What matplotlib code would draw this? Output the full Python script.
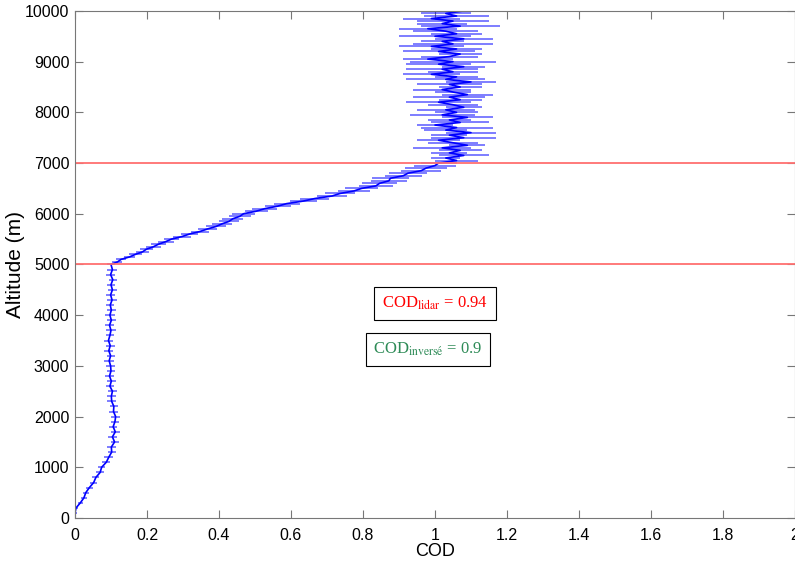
import numpy as np
import matplotlib
matplotlib.use("Agg")
from matplotlib import pyplot as plt

# altitude grids (m)
alt_low = np.arange(0, 5000, 100)
alt_mid = np.arange(5000, 7000, 50)
alt_high = np.arange(7000, 10001, 50)

# COD
cod_low = [0.0, 0.0, 0.003, 0.015, 0.025, 0.03, 0.04, 0.052, 0.058, 0.07,
           0.074, 0.087, 0.094, 0.102, 0.101, 0.11, 0.104, 0.112, 0.106, 0.111,
           0.113, 0.107, 0.108, 0.102, 0.101, 0.104, 0.097, 0.101, 0.096, 0.1,
           0.099, 0.095, 0.099, 0.094, 0.098, 0.093, 0.097, 0.1, 0.096, 0.101,
           0.097, 0.101, 0.098, 0.103, 0.099, 0.104, 0.1, 0.105, 0.099, 0.104]
err_low = [0.004, 0.005, 0.006, 0.007, 0.008, 0.008, 0.009, 0.01, 0.01, 0.011,
           0.01, 0.011, 0.012, 0.011, 0.012, 0.011, 0.012, 0.013, 0.011, 0.012,
           0.013, 0.012, 0.011, 0.012, 0.013, 0.012, 0.011, 0.012, 0.013, 0.012,
           0.012, 0.013, 0.011, 0.012, 0.013, 0.012, 0.011, 0.013, 0.012, 0.012,
           0.013, 0.012, 0.011, 0.013, 0.012, 0.013, 0.012, 0.011, 0.013, 0.014]

cod_mid = [0.1, 0.118, 0.128, 0.152, 0.168, 0.188, 0.198, 0.218, 0.232, 0.252,
           0.268, 0.297, 0.318, 0.347, 0.368, 0.392, 0.408, 0.428, 0.438, 0.458,
           0.468, 0.503, 0.527, 0.563, 0.588, 0.634, 0.666, 0.714, 0.736, 0.775,
           0.796, 0.836, 0.846, 0.872, 0.876, 0.912, 0.925, 0.962, 0.975, 1.0]
err_mid = [0.012, 0.014, 0.014, 0.016, 0.017, 0.018, 0.018, 0.02, 0.02, 0.022,
           0.022, 0.024, 0.024, 0.026, 0.026, 0.027, 0.028, 0.028, 0.03, 0.03,
           0.032, 0.032, 0.034, 0.036, 0.036, 0.038, 0.04, 0.042, 0.042, 0.044,
           0.046, 0.048, 0.048, 0.05, 0.052, 0.052, 0.054, 0.056, 0.057, 0.058]

cod_high = [1.01, 1.06, 1.03, 1.08, 1.04, 1.07, 1.02, 1.09, 1.05, 1.01,
            1.08, 1.04, 1.10, 1.03, 1.06, 1.00, 1.07, 1.04, 1.09, 1.02,
            1.06, 1.03, 1.08, 1.05, 1.01, 1.07, 1.04, 1.09, 1.05, 1.02,
            1.07, 1.04, 1.10, 1.03, 1.06, 0.99, 1.05, 1.02, 1.08, 1.01,
            1.05, 0.98, 1.04, 1.07, 1.01, 1.06, 0.99, 1.05, 1.02, 1.08,
            1.00, 1.06, 1.03, 0.98, 1.07, 1.02, 1.05, 0.99, 1.06, 1.03, 1.08]
err_high = [0.05, 0.06, 0.04, 0.07, 0.05, 0.06, 0.08, 0.05, 0.07, 0.06,
            0.09, 0.05, 0.07, 0.06, 0.1, 0.05, 0.08, 0.06, 0.07, 0.09,
            0.06, 0.08, 0.05, 0.07, 0.09, 0.06, 0.1, 0.07, 0.05, 0.08,
            0.06, 0.09, 0.07, 0.11, 0.06, 0.08, 0.07, 0.1, 0.06, 0.09,
            0.12, 0.07, 0.08, 0.06, 0.1, 0.07, 0.09, 0.11, 0.06, 0.08,
            0.1, 0.07, 0.09, 0.08, 0.11, 0.07, 0.1, 0.08, 0.09, 0.07, 0.12]

cloud_base = 5000
cloud_top = 7000
labels = ["lidar", "inversé"]
cod_values = ["0.94", "0.9"]
label_colors = ["red", "#2e8b57"]

altitude = np.concatenate([alt_low, alt_mid, alt_high])
cod = np.concatenate([cod_low, cod_mid, cod_high])
err = np.concatenate([err_low, err_mid, err_high])

plt.rcParams["font.family"] = ["Liberation Sans", "DejaVu Sans"]
plt.rcParams["mathtext.fontset"] = "stix"

fig = plt.figure(figsize=(7.95, 5.75), dpi=100)
ax = fig.add_axes([0.0943, 0.0991, 0.9057, 0.8819])

ax.errorbar(cod, altitude, xerr=err, fmt="none", ecolor="blue", alpha=0.55, elinewidth=1.3)
ax.plot(cod, altitude, color="blue", lw=1.2)

for h in [cloud_base, cloud_top]:
    ax.axhline(h, color="#ff7070", lw=1.3)

for i, (lab, val, col) in enumerate(zip(labels, cod_values, label_colors)):
    ax.text(1.0 - 0.02 * i, 4230 - 910 * i, "COD$_{\\mathrm{%s}}$ = %s" % (lab, val),
            color=col, ha="center", va="center", fontsize=12,
            family=["Liberation Serif", "DejaVu Serif"],
            bbox=dict(facecolor="white", edgecolor="black", lw=0.8, boxstyle="square,pad=0.45"))

ax.set_xlim(0, 2)
ax.set_ylim(0, 10000)
ax.set_xticks(np.arange(0, 2.01, 0.2))
ax.set_xticklabels(["0", "0.2", "0.4", "0.6", "0.8", "1", "1.2", "1.4", "1.6", "1.8", "2"])
ax.set_yticks(np.arange(0, 10001, 1000))
ax.tick_params(direction="in", length=6, color="#777777", labelsize=11.5,
               top=True, right=True, pad=4)
ax.tick_params(axis="x", pad=7)
for s in ax.spines.values():
    s.set_color("#777777")
ax.set_xlabel("COD", fontsize=13, labelpad=0)
ax.set_ylabel("Altitude (m)", fontsize=15, labelpad=0)

fig.savefig("out.png", dpi=100)
